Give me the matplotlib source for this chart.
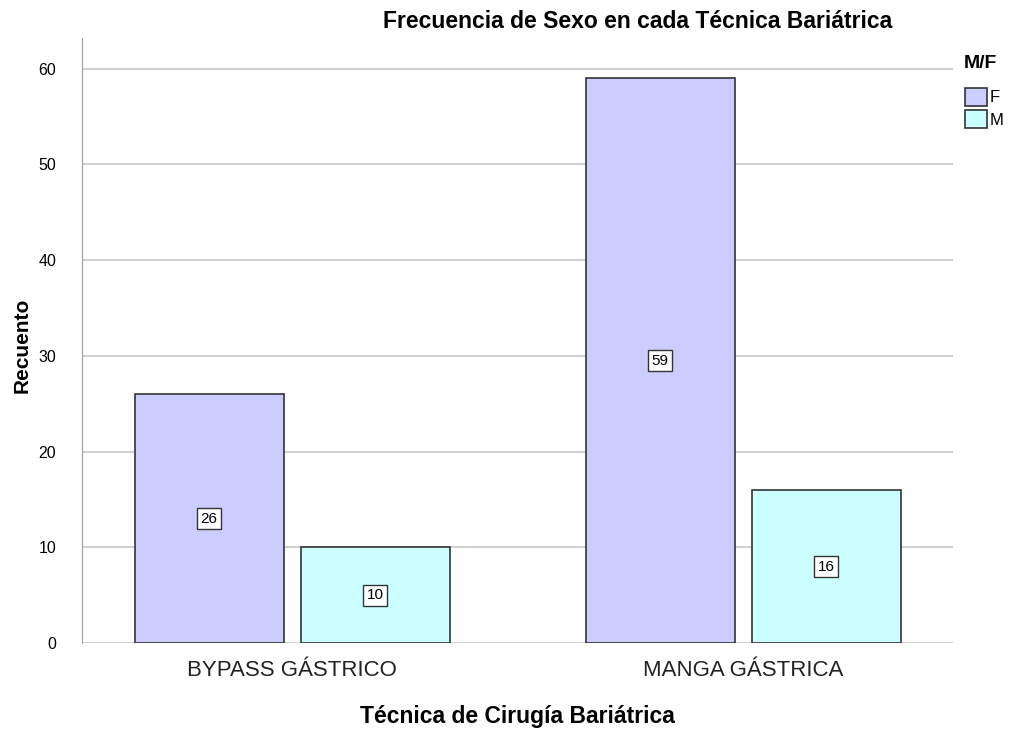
import numpy as np
import matplotlib.pyplot as plt

plt.rcParams['font.family'] = ['Liberation Sans', 'DejaVu Sans']

# datos
categorias = ["BYPASS GÁSTRICO", "MANGA GÁSTRICA"]
sexos = ["F", "M"]
recuento_F = [26, 59]
recuento_M = [10, 16]
colores = {"F": "#CCCCFF", "M": "#CCFFFF"}

fig = plt.figure(figsize=(10.12, 7.3), dpi=100)
ax = fig.add_axes([0.081, 0.119, 0.861, 0.829])

x = np.arange(len(categorias))
ancho = 0.33
sep = 0.038
desp = (ancho + sep) / 2

for serie, vals, d in [("F", recuento_F, -desp), ("M", recuento_M, desp)]:
    barras = ax.bar(x + d, vals, ancho, color=colores[serie], edgecolor="#333333",
                    linewidth=1.2, label=serie, zorder=3)
    for b, v in zip(barras, vals):
        ax.text(b.get_x() + b.get_width() / 2, v / 2, str(v), ha="center", va="center",
                fontsize=11, zorder=4,
                bbox=dict(boxstyle="square,pad=0.22", facecolor="white", edgecolor="#333333", linewidth=1))

ax.set_xlim(-0.466, 1.466)
ax.set_ylim(0, 63.2)
ax.set_yticks(range(0, 61, 10))
ax.set_xticks(x)
ax.set_xticklabels(categorias, fontsize=16, color="#222222")
ax.tick_params(axis="y", labelsize=11.5, length=0, pad=18.5)
ax.tick_params(axis="x", length=0, pad=12)
ax.grid(axis="y", color="#C8C8C8", linewidth=1.2, zorder=0)
for s in ["top", "right", "bottom"]:
    ax.spines[s].set_visible(False)
ax.spines["left"].set_color("#A0A0A0")

# rótulos de ejes y título
fig.text(0.022, 0.527, "Recuento", rotation=90, ha="center", va="center",
         fontsize=15, fontweight="bold")
fig.text(0.511, 0.019, "Técnica de Cirugía Bariátrica", ha="center", va="center",
         fontsize=16.5, fontweight="bold")
fig.text(0.630, 0.970, "Frecuencia de Sexo en cada Técnica Bariátrica", ha="center", va="center",
         fontsize=16.5, fontweight="bold")

# leyenda
fig.text(0.9525, 0.913, "M/F", ha="left", va="center", fontsize=14, fontweight="bold")
leg = ax.legend(loc="upper left", bbox_to_anchor=(1.0135, 0.918), frameon=False,
                fontsize=12, handlelength=1.3, handleheight=1.3, handletextpad=0.2,
                labelspacing=0.25, borderaxespad=0, borderpad=0)

fig.savefig("out.png", dpi=100)
